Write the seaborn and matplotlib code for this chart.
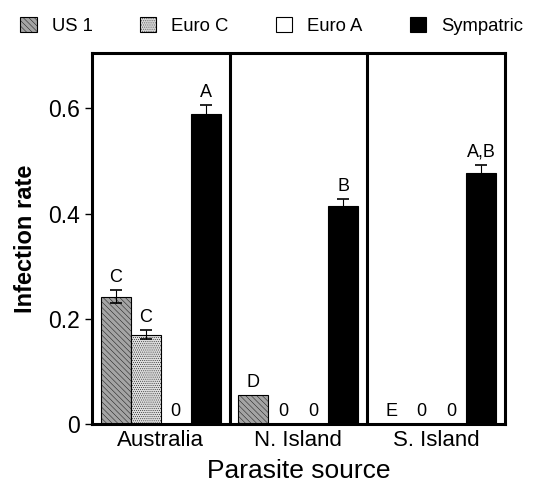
import numpy as np
import pandas as pd
import seaborn as sns
import matplotlib
matplotlib.use("Agg")
from matplotlib import pyplot as plt
from matplotlib.patches import Patch

sources = ["Australia", "N. Island", "S. Island"]
strains = ["US 1", "Euro C", "Euro A", "Sympatric"]
rate_us1 = [0.242, 0.055, 0.0]
rate_euroc = [0.170, 0.0, 0.0]
rate_euroa = [0.0, 0.0, 0.0]
rate_symp = [0.590, 0.415, 0.478]
err_us1 = [0.012, 0.0, 0.0]
err_euroc = [0.009, 0.0, 0.0]
err_euroa = [0.0, 0.0, 0.0]
err_symp = [0.016, 0.012, 0.014]
letters_us1 = ["C", "D", "E"]
letters_euroc = ["C", "0", "0"]
letters_euroa = ["0", "0", "0"]
letters_symp = ["A", "B", "A,B"]

colors = ["#a4a4a4", "#dcdcdc", "#ffffff", "#000000"]
hatches = ["\\\\\\\\\\\\", "........", "", ""]

rows = []
for s, vals, errs, labs in zip(strains,
                               [rate_us1, rate_euroc, rate_euroa, rate_symp],
                               [err_us1, err_euroc, err_euroa, err_symp],
                               [letters_us1, letters_euroc, letters_euroa, letters_symp]):
    for src, v, e, l in zip(sources, vals, errs, labs):
        rows.append({"source": src, "strain": s, "rate": v, "err": e, "label": l})
df = pd.DataFrame(rows)

sns.set_style("ticks")
plt.rcParams['font.family'] = ['Liberation Sans', 'DejaVu Sans']
plt.rcParams['hatch.linewidth'] = 0.3
plt.rcParams['axes.edgecolor'] = 'black'
plt.rcParams['xtick.color'] = 'black'
plt.rcParams['ytick.color'] = 'black'
plt.rcParams['text.color'] = 'black'
plt.rcParams['axes.labelcolor'] = 'black'

fig = plt.figure(figsize=(5.5, 4.83), dpi=100)
ax = fig.add_axes([0.167, 0.122, 0.751, 0.768])

width = 0.87
sns.barplot(data=df, x="source", y="rate", hue="strain", order=sources,
            hue_order=strains, palette=colors, width=width, gap=0,
            edgecolor="black", linewidth=0.8, errorbar=None, legend=False, ax=ax)

bw = width / len(strains)
for j, s in enumerate(strains):
    sub = df[df.strain == s].set_index("source").loc[sources]
    xs = np.arange(len(sources)) - width / 2 + bw * (j + 0.5)
    for x, (_, r) in zip(xs, sub.iterrows()):
        if r.err > 0:
            ax.errorbar(x, r.rate, yerr=r.err, fmt="none", ecolor="black",
                        elinewidth=0.8, capsize=4, capthick=1.2)
        if r.rate > 0:
            ax.text(x, r.rate + r.err + 0.008, r.label, ha="center", va="bottom", fontsize=13)
        else:
            ax.text(x, 0.008, r.label, ha="center", va="bottom", fontsize=13)

# hatching
for j, s in enumerate(strains):
    for p in ax.patches[j * len(sources):(j + 1) * len(sources)]:
        p.set_hatch(hatches[j])

for xv in [0.5, 1.5]:
    ax.axvline(xv, color="black", lw=2.2)

ax.set_xlim(-0.5, 2.5)
ax.set_ylim(0, 0.705)
ax.set_yticks([0, 0.2, 0.4, 0.6])
ax.set_yticklabels(["0", "0.2", "0.4", "0.6"])
ax.tick_params(axis="y", labelsize=16.5, length=5, width=1)
ax.tick_params(axis="x", labelsize=16, length=0, pad=4)
for sp in ax.spines.values():
    sp.set_linewidth(2.2)
ax.set_xlabel("Parasite source", fontsize=19, labelpad=6)
ax.set_ylabel("Infection rate", fontsize=17, fontweight="bold", labelpad=8)

handles = [Patch(facecolor=c, edgecolor="black", hatch=h, linewidth=0.8)
           for c, h in zip(colors, hatches)]
fig.legend(handles, strains, loc="upper center", bbox_to_anchor=(0.494, 1.0),
           ncol=4, frameon=False, fontsize=13.3, handlelength=0.9, handleheight=0.9,
           columnspacing=2.55, handletextpad=0.8)

fig.savefig("out.png", dpi=100)
